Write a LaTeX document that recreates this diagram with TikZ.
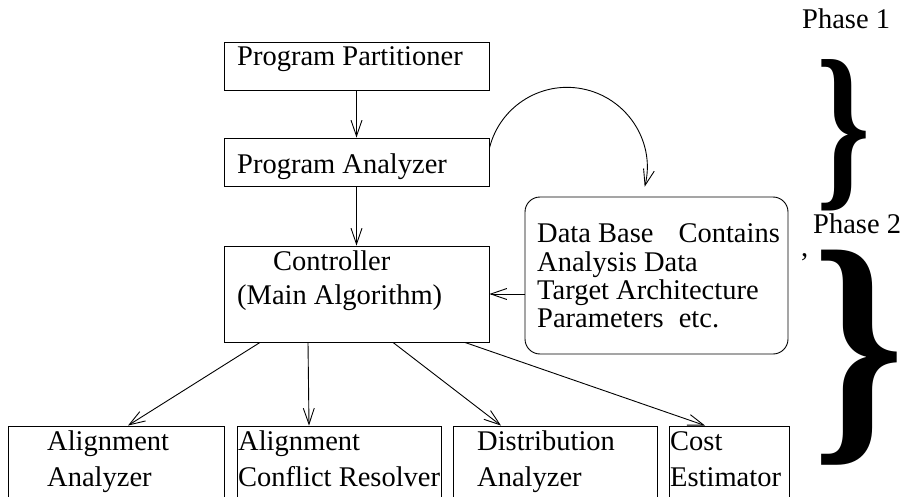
\documentclass[tikz,border=0pt]{standalone}
\usepackage{fontspec}
\setmainfont{Liberation Serif}
\usetikzlibrary{arrows.meta}

\tikzset{
    box/.style={draw, line width=0.9pt, inner sep=0pt},
    txt/.style={anchor=base west, inner sep=0pt, font=\fontsize{28.5}{34}\selectfont},
    flow/.style={-{Straight Barb[length=16pt,width=11pt]}, line width=0.9pt},
}

\begin{document}
\begin{tikzpicture}[x=1pt, y=-1pt]
    \clip (0,0) rectangle (904,497);

    % draw the boxes
    \node[box, minimum width=265pt, minimum height=48pt] (part) at (356.5,66) {};
    \node[box, minimum width=265pt, minimum height=48pt] (anal) at (356.5,162) {};
    \node[box, minimum width=265pt, minimum height=96pt] (ctrl) at (356.5,294) {};
    \node[box, rounded corners=15pt, minimum width=263pt, minimum height=157pt] (db) at (656.5,275.5) {};
    \node[box, minimum width=216pt, minimum height=104pt] (align) at (116,478) {};
    \node[box, minimum width=204pt, minimum height=104pt] (confl) at (339,478) {};
    \node[box, minimum width=204pt, minimum height=104pt] (distr) at (555,478) {};
    \node[box, minimum width=120pt, minimum height=104pt] (cost) at (729,478) {};

    % the texts
    \node[txt] (tpart) at (237,66) {Program Partitioner};
    \node[txt] (tanal) at (237,174) {Program Analyzer};
    \node[txt] (tctrla) at (273,270) {Controller};
    \node[txt] (tctrlb) at (237,304) {(Main Algorithm)};
    \node[txt] (tdba) at (537,242) {Data Base\hspace{25pt}Contains};
    \node[txt] (tdbb) at (537,271) {Analysis Data};
    \node[txt] (tdbc) at (537,299) {Target Architecture};
    \node[txt] (tdbd) at (537,327) {Parameters\hspace{15pt}etc.};
    \node[txt] (taligna) at (47,450) {Alignment};
    \node[txt] (talignb) at (47,486) {Analyzer};
    \node[txt] (tconfla) at (238,450) {Alignment};
    \node[txt] (tconflb) at (238,486) {Conflict Resolver};
    \node[txt] (tdistra) at (477,450) {Distribution};
    \node[txt] (tdistrb) at (477,486) {Analyzer};
    \node[txt] (tcosta) at (670,450) {Cost};
    \node[txt] (tcostb) at (670,486) {Estimator};

    % the phases on the right
    \node[txt] (ph1) at (802,29) {Phase 1};
    \node[txt] (ph2) at (813,233) {Phase 2};
    \node[txt] (comma) at (801,256) {,};
    \node[inner sep=0pt, font=\fontsize{183}{183}\selectfont\bfseries] (br1) at (844,135) {\scalebox{0.75}[1]{\}}};
    \node[inner sep=0pt, font=\fontsize{260}{260}\selectfont\bfseries] (br2) at (859,358) {\scalebox{0.9}[1]{\}}};

    % draw the arrows
    \draw[flow] (part) -- (anal);
    \draw[flow] (anal) -- (ctrl);
    \draw[flow] ([yshift=14pt]anal.east) arc[start angle=166, end angle=-14, radius=80pt];
    \draw[flow] (db.west |- ctrl.east) -- (ctrl.east);
    \draw[flow] ([xshift=-96.5pt]ctrl.south) -- ([xshift=12pt]align.north);
    \draw[flow] ([xshift=-48.5pt]ctrl.south) -- ([xshift=-30pt]confl.north);
    \draw[flow] ([xshift=36.5pt]ctrl.south) -- ([xshift=-54pt]distr.north);
    \draw[flow] ([xshift=108.5pt]ctrl.south) -- ([xshift=-24pt]cost.north);

\end{tikzpicture}
\end{document}
